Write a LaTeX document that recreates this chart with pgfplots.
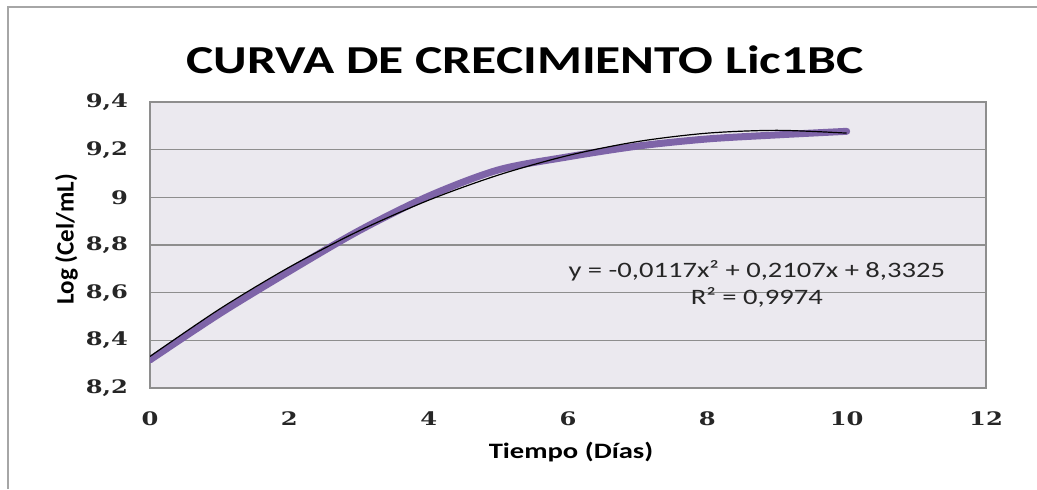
\documentclass[border=0pt]{standalone}
\usepackage{fontspec}
\setmainfont{Carlito}
\newfontfamily\titlefont[FakeStretch=1.3]{Carlito}
\newfontfamily\tickfont[FakeStretch=1.3]{DejaVu Serif}
\usepackage{pgfplots}
\pgfplotsset{compat=1.18}
\definecolor{plotbg}{HTML}{EBE9EF}
\definecolor{gridgray}{HTML}{8E8E8E}
\definecolor{growth}{HTML}{7E64A8}
\definecolor{framegray}{HTML}{A6A6A6}

\begin{document}
\begin{tikzpicture}[x=1pt,y=1pt]
\useasboundingbox (0,0) rectangle (518.5,244.5);
\draw[framegray, line width=0.8pt] (4,0) -- (4,241) -- (518.5,241);
\begin{axis}[
  at={(75pt,50.5pt)}, anchor=south west,
  scale only axis, width=418pt, height=143pt,
  xmin=0, xmax=12, ymin=8.2, ymax=9.4,
  xtick={0,2,4,6,8,10,12},
  ytick={8.2,8.4,8.6,8.8,9,9.2,9.4},
  axis background/.style={fill=plotbg},
  axis line style={gridgray, line width=0.6pt},
  ymajorgrids, grid style={gridgray, line width=0.6pt},
  major tick length=0pt,
  /pgf/number format/.cd, use comma, 1000 sep={}, assume math mode=true, /pgfplots/.cd,
  tick label style={font=\tickfont\bfseries\fontsize{9.3}{11}\selectfont, text=black!85},
  yticklabel style={xshift=-7.5pt},
  xticklabel style={yshift=-8.5pt},
  title={CURVA DE CRECIMIENTO Lic1BC},
  title style={font=\titlefont\bfseries\fontsize{19.8}{22}\selectfont,
    at={(axis description cs:0.4486,1.105)}, anchor=center},
  xlabel={Tiempo (Días)},
  xlabel style={font=\titlefont\bfseries\fontsize{11}{13}\selectfont,
    at={(axis description cs:0.5036,-0.224)}, anchor=center},
  ylabel={Log (Cel/mL)},
  ylabel style={font=\bfseries\fontsize{12.5}{14}\selectfont,
    at={(axis description cs:-0.1,0.52)}, anchor=center},
]
% measured growth curve
\addplot[growth, line width=3.5pt, smooth, line cap=round] coordinates {
(0,8.318)(1,8.512)(2,8.690)(3,8.860)(4,9.005)(5,9.115)
(6,9.170)(7,9.215)(8,9.245)(9,9.262)(10,9.277)};
% polynomial trendline, values tabulated
\addplot[black, line width=0.6pt, smooth] coordinates {
(0,8.3325)(1,8.5315)(2,8.7071)(3,8.8593)(4,8.9881)(5,9.0935)
(6,9.1755)(7,9.2341)(8,9.2693)(9,9.2811)(10,9.2695)};
\node[font=\titlefont\fontsize{11}{13.5}\selectfont, align=center, text=black!85]
  at (axis cs:8.71,8.636) {y = -0,0117x² + 0,2107x + 8,3325\\R² = 0,9974};
\end{axis}
\end{tikzpicture}
\end{document}
